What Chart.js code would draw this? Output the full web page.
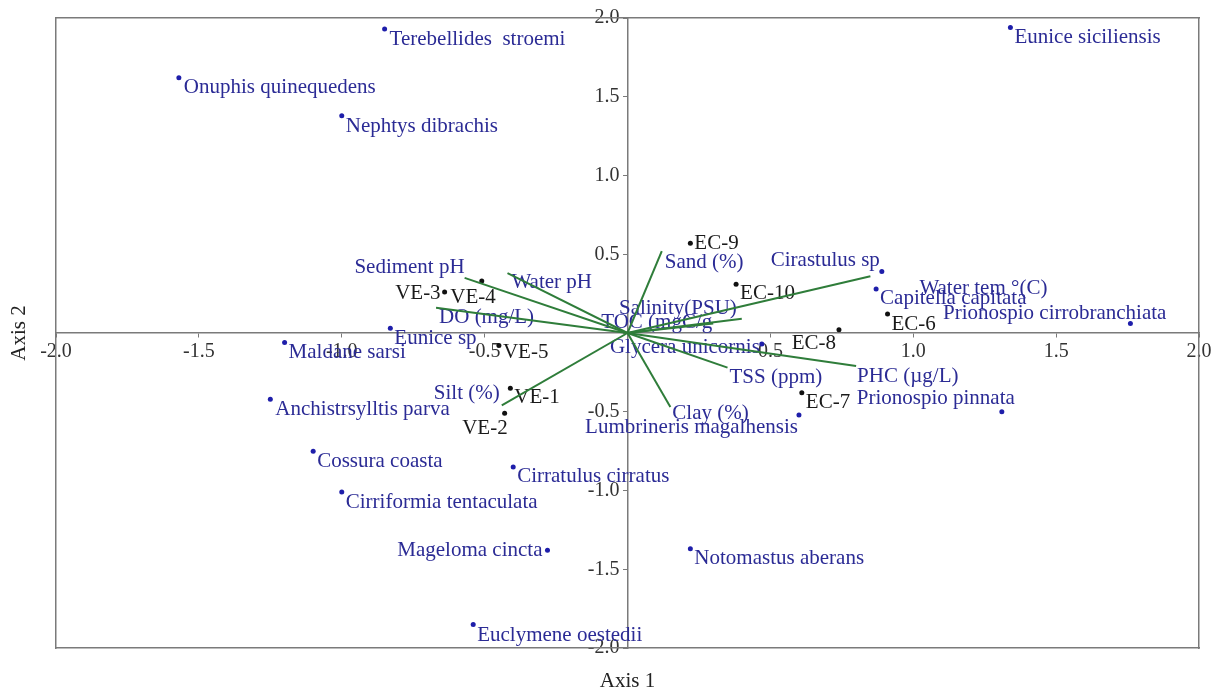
<!DOCTYPE html>
<html>
<head>
<meta charset="utf-8">
<script src="https://cdn.jsdelivr.net/npm/chart.js@4.4.1/dist/chart.umd.min.js"></script>
<style>
  html, body { margin: 0; padding: 0; background: #fff; }
  #wrap { width: 1219px; height: 692px; position: relative; }
</style>
</head>
<body>
<div id="wrap"><canvas id="c" width="1219" height="692"></canvas></div>
<script>
// ---- Data ----
const speciesNames = ["Terebellides  stroemi","Onuphis quinequedens","Nephtys dibrachis","Eunice siciliensis",
  "Cirastulus sp","Capitella capitata","Prionospio cirrobranchiata","Eunice sp","Maldane sarsi",
  "Anchistrsylltis parva","Cossura coasta","Cirriformia tentaculata","Cirratulus cirratus","Mageloma cincta",
  "Euclymene oestedii","Notomastus aberans","Glycera unicornis","Lumbrineris magalhensis","Prionospio pinnata"];
const speciesX = [-0.85,-1.57,-1.00,1.34,0.89,0.87,1.76,-0.83,-1.20,-1.25,-1.10,-1.00,-0.40,-0.28,-0.54,0.22,0.47,0.60,1.31];
const speciesY = [1.93,1.62,1.38,1.94,0.39,0.28,0.06,0.03,-0.06,-0.42,-0.75,-1.01,-0.85,-1.38,-1.85,-1.37,-0.07,-0.52,-0.50];

const siteNames = ["EC-6","EC-7","EC-8","EC-9","EC-10","VE-1","VE-2","VE-3","VE-4","VE-5"];
const siteX = [0.91,0.61,0.74,0.22,0.38,-0.41,-0.43,-0.64,-0.51,-0.45];
const siteY = [0.12,-0.38,0.02,0.57,0.31,-0.35,-0.51,0.26,0.33,-0.08];

const envNames = ["Sediment pH","Water pH","DO (mg/L)","Silt (%)","Sand (%)","Water tem \u00b0(C)",
  "Salinity(PSU)","TOC (mgC/g","TSS (ppm)","PHC (\u00b5g/L)","Clay (%)"];
const envX = [-0.57,-0.42,-0.67,-0.44,0.12,0.85,0.40,0.30,0.35,0.80,0.15];
const envY = [0.35,0.38,0.16,-0.46,0.52,0.36,0.09,0.06,-0.22,-0.21,-0.47];

const axisTicks = [-2.0,-1.5,-1.0,-0.5,0,0.5,1.0,1.5,2.0];

// ---- Label placement (style only): [align, dx px, dy px] ----
const speciesLabelPlace = [['left',5,10],['left',5,10],['left',4,11],['left',4,10],['right',-2,-11],
  ['left',4,10],['right',36,-10],['left',4,10],['left',4,10],['left',5,10],['left',4,10],['left',4,10],
  ['left',4,10],['right',-5,0],['left',4,11],['left',4,10],['right',-2,3],['right',-1,13],['right',13,-13]];
const siteLabelPlace = [['left',4,10],['left',4,10],['right',-3,14],['left',4,0],['left',4,9],
  ['left',4,9],['right',3,15],['right',-4,1],['right',14,16],['left',4,7]];
const envLabelPlace = [['right',0,-10],['left',4,9],['left',3,10],['right',-2,-12],['left',3,11],
  ['left',49,12],['right',-5,-10],['right',-1,-1],['left',2,10],['left',1,10],['left',2,6]];

const BLUE_TEXT = '#2b2b95';
const BLUE_DOT = '#1e1eaa';
const GREEN = '#2f7d3a';
const AXIS = '#7a7a7a';
const FONT = '"Liberation Serif", "Times New Roman", serif';

const datasets = [];
envNames.forEach((n, i) => {
  datasets.push({
    type: 'line', label: n,
    data: [{x: 0, y: 0}, {x: envX[i], y: envY[i]}],
    borderColor: GREEN, borderWidth: 2, pointRadius: 0, pointHoverRadius: 0, fill: false,
    _labels: [null, n], _place: [null, envLabelPlace[i]], _color: BLUE_TEXT
  });
});
datasets.push({
  type: 'scatter', label: 'Species',
  data: speciesX.map((x, i) => ({x, y: speciesY[i]})),
  backgroundColor: BLUE_DOT, borderColor: BLUE_DOT, pointRadius: 2.5, borderWidth: 0,
  _labels: speciesNames, _place: speciesLabelPlace, _color: BLUE_TEXT
});
datasets.push({
  type: 'scatter', label: 'Sites',
  data: siteX.map((x, i) => ({x, y: siteY[i]})),
  backgroundColor: '#111', borderColor: '#111', pointRadius: 2.5, borderWidth: 0,
  _labels: siteNames, _place: siteLabelPlace, _color: '#1a1a1a'
});

const labelPlugin = {
  id: 'pointLabels',
  beforeDatasetsDraw(chart) {
    const ctx = chart.ctx;
    ctx.save();
    ctx.font = '21px ' + FONT;
    ctx.textBaseline = 'middle';
    chart.data.datasets.forEach((ds, di) => {
      if (!ds._labels) return;
      const meta = chart.getDatasetMeta(di);
      meta.data.forEach((el, j) => {
        const t = ds._labels[j];
        if (!t) return;
        const p = ds._place[j];
        ctx.fillStyle = ds._color;
        ctx.textAlign = p[0];
        ctx.fillText(t, el.x + p[1], el.y + p[2]);
      });
    });
    ctx.restore();
  }
};

const fmtX = v => (Math.abs(v) < 1e-9 ? '' : Number(v).toFixed(1));
const fmtY = v => (Math.abs(v) < 1e-9 ? '' : Number(v).toFixed(1) + '\u2009\u2009');
const tickFont = { family: FONT, size: 20 };

new Chart(document.getElementById('c'), {
  data: { datasets },
  plugins: [labelPlugin],
  options: {
    responsive: false,
    animation: false,
    layout: { autoPadding: false, padding: { top: 10, right: 12, bottom: 0, left: 0 } },
    plugins: { legend: { display: false }, tooltip: { enabled: false } },
    scales: {
      x: {
        type: 'linear', position: { y: 0 }, min: -2, max: 2,
        afterBuildTicks: s => { s.ticks = axisTicks.map(v => ({ value: v })); },
        ticks: { callback: fmtX, font: tickFont, color: '#333', autoSkip: false, maxRotation: 0, padding: 3 },
        grid: { display: true, drawOnChartArea: false, drawTicks: true, tickLength: 4, color: AXIS },
        border: { display: true, color: AXIS, width: 1.5 }
      },
      y: {
        type: 'linear', position: { x: 0 }, min: -2, max: 2,
        afterBuildTicks: s => { s.ticks = axisTicks.map(v => ({ value: v })); },
        ticks: { callback: fmtY, font: tickFont, color: '#333', autoSkip: false, padding: 3 },
        grid: { display: true, drawOnChartArea: false, drawTicks: true, tickLength: 4, color: AXIS },
        border: { display: true, color: AXIS, width: 1.5 }
      },
      xb: {
        type: 'linear', position: 'bottom', min: -2, max: 2,
        ticks: { display: false }, grid: { display: false },
        border: { display: true, color: AXIS, width: 1.5 },
        title: { display: true, text: 'Axis 1', color: '#222', font: { family: FONT, size: 21, lineHeight: 1 }, padding: { top: 15, bottom: 0 } }
      },
      xt: {
        type: 'linear', position: 'top', min: -2, max: 2,
        ticks: { display: false }, grid: { display: false },
        border: { display: true, color: AXIS, width: 1.5 }
      },
      yl: {
        type: 'linear', position: 'left', min: -2, max: 2,
        ticks: { display: false }, grid: { display: false },
        border: { display: true, color: AXIS, width: 1.5 },
        title: { display: true, text: 'Axis 2', color: '#222', font: { family: FONT, size: 21, lineHeight: 1 }, padding: { top: 9, bottom: 18 } }
      },
      yr: {
        type: 'linear', position: 'right', min: -2, max: 2,
        ticks: { display: false }, grid: { display: false },
        border: { display: true, color: AXIS, width: 1.5 }
      }
    }
  }
});
</script>
</body>
</html>
